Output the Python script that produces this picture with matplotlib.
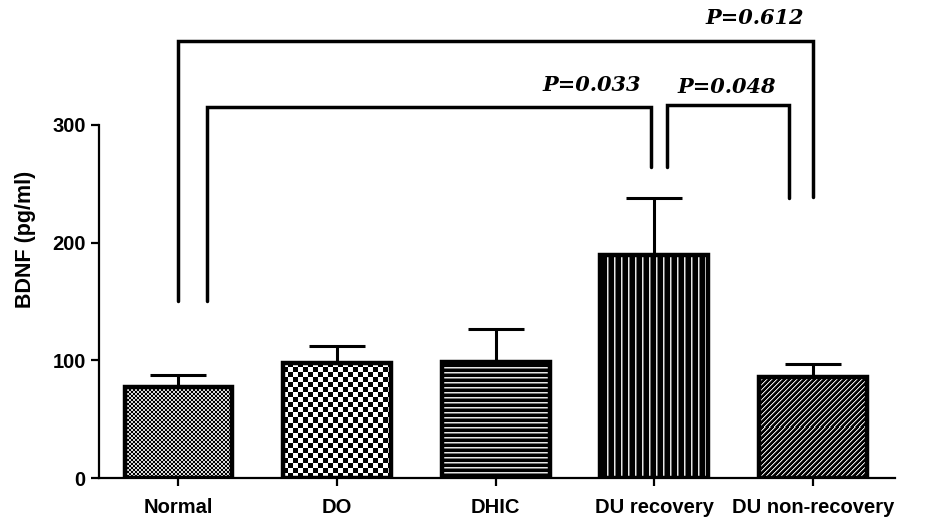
import matplotlib
matplotlib.use("Agg")
import matplotlib.pyplot as plt
import numpy as np

groups = ["Normal", "DO", "DHIC", "DU recovery", "DU non-recovery"]
means = [77, 98, 98.5, 189.5, 86]
errors = [10.5, 14, 28, 48.5, 11]
patterns = ["fine_check", "check", "hlines", "vlines", "diag"]

# significance brackets: x left, x right, y left foot, top, y right foot, label
bracket_x = [(0.0, 4.0), (0.18, 2.98), (3.08, 3.85)]
bracket_y = [(150, 371, 239), (150, 315, 264), (264, 317, 238)]
bracket_labels = ["P=0.612", "P=0.033", "P=0.048"]
label_pos = [(3.94, 391, "right"), (2.605, 334, "center"), (3.456, 332, "center")]

plt.rcParams['font.family'] = ['Liberation Sans', 'DejaVu Sans']


def make_pattern(kind, w, h):
    r, c = np.indices((h, w))
    if kind == "fine_check":
        a = ((r // 2 + c // 2) % 2 == 0) * 0.85
    elif kind == "check":
        a = ((r // 5 + c // 5) % 2 == 0) * 1.0
    elif kind == "hlines":
        m = r % 5
        a = (m == 0) * 0.9 + (m == 1) * 0.45
    elif kind == "vlines":
        m = c % 7
        a = (m == 0) * 0.9 + (m == 1) * 0.45
    else:
        m = (c + r) % 5
        a = (m == 0) * 0.9 + (m == 1) * 0.4
    return a.astype(float)


fig = plt.figure(figsize=(9.34, 5.18), dpi=100)
ax = fig.add_axes([0.106, 0.0772, 0.852, 0.9228])
xlim = (-0.501, 4.515)
ylim = (0, 406.2)
ax.set_xlim(*xlim)
ax.set_ylim(*ylim)

x = np.arange(len(groups))
bars = ax.bar(x, means, width=0.68, facecolor='none', edgecolor='black',
              linewidth=3.2, zorder=3)

for bar, kind in zip(bars, patterns):
    x0, y0 = bar.get_x(), bar.get_y()
    x1, y1 = x0 + bar.get_width(), y0 + bar.get_height()
    p0 = ax.transData.transform((x0, y0))
    p1 = ax.transData.transform((x1, y1))
    w = int(round(p1[0] - p0[0]))
    h = int(round(p1[1] - p0[1]))
    img = make_pattern(kind, w, h)
    ax.imshow(img, cmap='gray', vmin=0, vmax=1, extent=(x0, x1, y0, y1),
              interpolation='nearest', aspect='auto', clip_path=bar, zorder=2)

ax.errorbar(x, means, yerr=[np.zeros(len(means)), errors], fmt='none',
            ecolor='black', elinewidth=2.2, capsize=20, capthick=2.2, zorder=1)

for (xa, xb), (ya, yt, yb) in zip(bracket_x, bracket_y):
    ax.plot([xa, xa, xb, xb], [ya, yt, yt, yb], color='black', lw=2.5,
            solid_capstyle='round', solid_joinstyle='miter', zorder=4)

for txt, (tx, ty, ha) in zip(bracket_labels, label_pos):
    ax.text(tx, ty, txt, ha=ha, va='center', fontsize=15,
            family='DejaVu Serif', fontweight='bold', fontstyle='italic')

ax.set_xlim(*xlim)
ax.set_ylim(*ylim)

for s in ['top', 'right']:
    ax.spines[s].set_visible(False)
ax.spines['left'].set_bounds(0, 300)
ax.spines['left'].set_linewidth(1.6)
ax.spines['bottom'].set_linewidth(1.6)

ax.set_yticks([0, 100, 200, 300])
ax.set_xticks(x)
ax.set_xticklabels(groups)
ax.tick_params(axis='both', direction='out', length=5.5, width=1.6,
               labelsize=14.5)
for lab in ax.get_xticklabels() + ax.get_yticklabels():
    lab.set_fontweight('bold')
ax.tick_params(axis='x', pad=9)
ax.tick_params(axis='y', pad=4)
ax.set_ylabel("BDNF (pg/ml)", fontsize=15.5, fontweight='bold', labelpad=12)

fig.savefig("out.png", dpi=100)
